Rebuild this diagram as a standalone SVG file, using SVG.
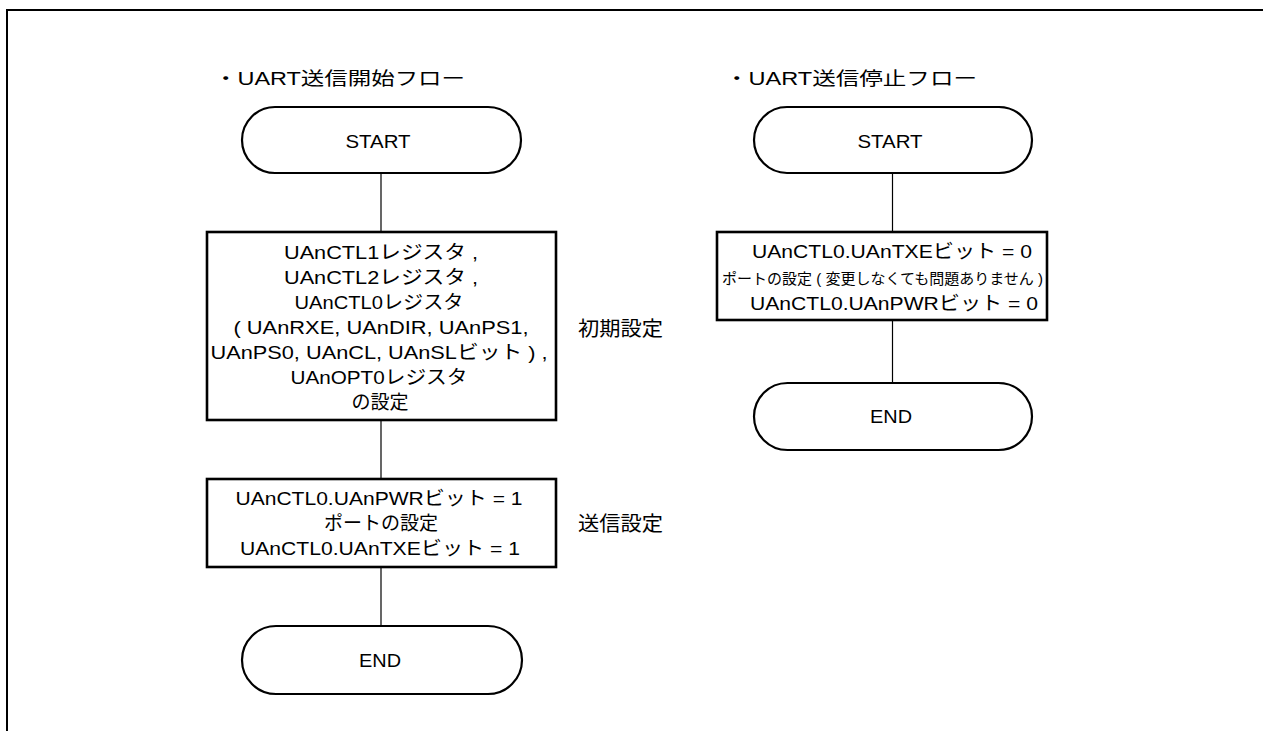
<svg xmlns="http://www.w3.org/2000/svg" width="1263" height="731" viewBox="0 0 1263 731">
<style>
text{font-family:"Liberation Sans","Noto Sans CJK JP",sans-serif;fill:#000;font-size:19px}
.c{text-anchor:middle}
.term{fill:#fff;stroke:#000;stroke-width:2.2}
.box{fill:#fff;stroke:#000;stroke-width:2.6}
.conn line{stroke:#000;stroke-width:1.2}
.frame{fill:none;stroke:#000;stroke-width:2}
</style>
<rect width="1263" height="731" fill="#fff"/>
<path class="frame" d="M7 731 V10 H1263"/>
<text id="title1" x="214" y="85" style="font-size:18px" textLength="251" lengthAdjust="spacingAndGlyphs">・UART送信開始フロー</text>
<text id="title2" x="725" y="85" style="font-size:18px" textLength="252" lengthAdjust="spacingAndGlyphs">・UART送信停止フロー</text>
<g class="conn" id="connectors">
<line x1="381" y1="173" x2="381" y2="232"/>
<line x1="381" y1="420" x2="381" y2="479"/>
<line x1="381" y1="567" x2="381" y2="626"/>
<line x1="892.5" y1="173" x2="892.5" y2="232"/>
<line x1="892.5" y1="320" x2="892.5" y2="383"/>
</g>
<g id="start1">
<rect class="term" x="242" y="107" width="279" height="66" rx="33"/>
<text class="c" x="378" y="148" textLength="65" lengthAdjust="spacingAndGlyphs">START</text>
</g>
<g id="init">
<rect class="box" x="207" y="232" width="349" height="188"/>
<text class="c" x="381" y="259" textLength="194" lengthAdjust="spacingAndGlyphs">UAnCTL1レジスタ ,</text>
<text class="c" x="381" y="284" textLength="194" lengthAdjust="spacingAndGlyphs">UAnCTL2レジスタ ,</text>
<text class="c" x="379" y="309" textLength="169" lengthAdjust="spacingAndGlyphs">UAnCTL0レジスタ</text>
<text class="c" x="381" y="334" textLength="295" lengthAdjust="spacingAndGlyphs">( UAnRXE, UAnDIR, UAnPS1,</text>
<text class="c" x="379" y="359" textLength="337" lengthAdjust="spacingAndGlyphs">UAnPS0, UAnCL, UAnSLビット ) ,</text>
<text class="c" x="379" y="384" textLength="177" lengthAdjust="spacingAndGlyphs">UAnOPT0レジスタ</text>
<text class="c" x="380" y="409">の設定</text>
</g>
<text id="label-init" x="578" y="336" style="font-size:20px" textLength="85" lengthAdjust="spacingAndGlyphs">初期設定</text>
<g id="txset">
<rect class="box" x="207" y="479" width="349" height="88"/>
<text class="c" x="379" y="505" textLength="287" lengthAdjust="spacingAndGlyphs">UAnCTL0.UAnPWRビット = 1</text>
<text class="c" x="381" y="530">ポートの設定</text>
<text class="c" x="380" y="555" textLength="280" lengthAdjust="spacingAndGlyphs">UAnCTL0.UAnTXEビット = 1</text>
</g>
<text id="label-tx" x="578" y="531" style="font-size:20px" textLength="85" lengthAdjust="spacingAndGlyphs">送信設定</text>
<g id="end1">
<rect class="term" x="242" y="626" width="280" height="68" rx="34"/>
<text class="c" x="380" y="667" textLength="42" lengthAdjust="spacingAndGlyphs">END</text>
</g>
<g id="start2">
<rect class="term" x="754" y="107" width="278" height="66" rx="33"/>
<text class="c" x="890" y="148" textLength="65" lengthAdjust="spacingAndGlyphs">START</text>
</g>
<g id="stop">
<rect class="box" x="717" y="232" width="330" height="88"/>
<text class="c" x="892" y="258" textLength="280" lengthAdjust="spacingAndGlyphs">UAnCTL0.UAnTXEビット = 0</text>
<text class="c" x="882.5" y="284" style="font-size:15px" textLength="321" lengthAdjust="spacingAndGlyphs">ポートの設定 ( 変更しなくても問題ありません )</text>
<text class="c" x="894" y="310" textLength="288" lengthAdjust="spacingAndGlyphs">UAnCTL0.UAnPWRビット = 0</text>
</g>
<g id="end2">
<rect class="term" x="754" y="383" width="278" height="67" rx="33.5"/>
<text class="c" x="891" y="423" textLength="42" lengthAdjust="spacingAndGlyphs">END</text>
</g>
</svg>
